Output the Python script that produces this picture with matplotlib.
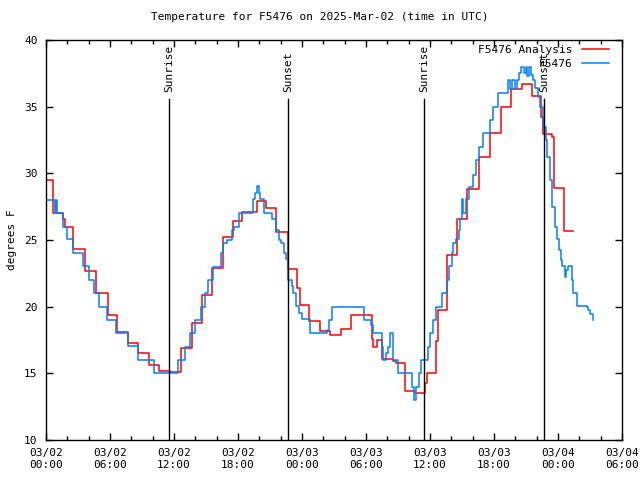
#!/usr/bin/env python3
"""
plot.py - temperature trace for F5476 (analysis vs station obs), gnuplot look.
Saves out.png
"""

import numpy as np
import pandas as pd
import matplotlib
matplotlib.use("Agg")
import matplotlib.pyplot as plt
import matplotlib.dates as mdates

# --- data (hours after 2025-03-02 00:00 UTC, degrees F) ---
START = pd.Timestamp("2025-03-02 00:00")

analysis_hours = [0.0, 0.63, 1.62, 1.81, 2.56, 3.68, 4.69, 5.78, 6.68, 7.72,
                  8.65, 9.68, 10.62, 11.63, 12.61, 13.66, 14.65, 15.53, 16.59, 17.56,
                  18.35, 19.75, 20.62, 21.56, 22.72, 23.56, 23.81, 24.63, 25.69, 26.63,
                  27.66, 28.59, 30.53, 30.69, 31.06, 31.53, 32.5, 32.8, 33.66, 34.59,
                  35.56, 35.69, 36.53, 36.78, 37.56, 38.56, 39.5, 40.62, 41.62, 42.63,
                  43.57, 44.6, 45.53, 46.41, 46.62, 47.47, 47.65, 48.59, 49.43]
analysis_temp = [29.5, 27.0, 26.6, 26.0, 24.3, 22.7, 21.0, 19.4, 18.1, 17.3,
                 16.55, 15.6, 15.2, 15.1, 16.9, 18.8, 20.85, 22.9, 25.2, 26.4,
                 27.1, 27.9, 27.4, 25.6, 22.8, 21.4, 20.1, 18.9, 18.2, 17.9,
                 18.3, 19.35, 17.6, 16.95, 17.5, 16.1, 15.9, 15.8, 13.7, 13.5,
                 14.3, 15.05, 17.4, 19.75, 23.9, 26.55, 28.8, 31.25, 33.0, 34.95,
                 36.3, 36.7, 35.8, 34.25, 32.95, 32.7, 28.9, 25.7, 25.7]

obs_hours = [0.0, 0.84, 0.94, 1.06, 1.55, 2.0, 2.56, 3.44, 4.06, 4.53,
             4.97, 5.69, 6.56, 7.72, 8.65, 10.1, 12.41, 13.03, 13.5, 13.97,
             14.5, 14.91, 15.22, 15.69, 16.38, 16.56, 16.94, 17.47, 17.63, 18.09,
             19.38, 19.59, 19.81, 19.94, 20.03, 20.44, 21.16, 21.6, 21.84, 22.0,
             22.31, 22.5, 22.72, 23.03, 23.19, 23.44, 23.72, 24.03, 24.75, 26.37,
             26.53, 26.84, 29.84, 30.47, 30.62, 30.69, 31.53, 31.62, 31.91, 32.06,
             32.28, 32.5, 32.53, 32.97, 34.28, 34.5, 34.69, 34.97, 35.16, 35.78,
             36.0, 36.31, 36.56, 37.15, 37.56, 37.78, 38.03, 38.19, 38.44, 38.72,
             38.81, 38.97, 39.06, 39.38, 39.69, 40.06, 40.31, 40.62, 41.0, 41.62,
             41.94, 42.4, 43.34, 43.5, 43.69, 43.97, 44.16, 44.34, 44.53, 44.81,
             45.0, 45.14, 45.28, 45.47, 45.66, 45.84, 46.15, 46.31, 46.62, 46.87,
             47.0, 47.25, 47.44, 47.72, 47.94, 48.06, 48.25, 48.38, 48.63, 48.72,
             48.9, 49.28, 49.43, 49.75, 49.81, 50.69, 50.84, 51.0, 51.25, 51.3]
obs_temp = [28.0, 27.0, 28.0, 27.0, 26.0, 25.05, 24.0, 23.05, 22.0, 21.0,
            20.0, 19.0, 18.0, 17.05, 16.0, 15.0, 16.0, 17.0, 18.0, 19.0,
            20.0, 21.0, 22.0, 23.0, 24.0, 24.75, 25.0, 25.75, 26.0, 27.0,
            28.05, 28.5, 29.05, 28.5, 28.05, 27.05, 26.55, 25.75, 25.0, 24.75,
            24.05, 23.6, 22.0, 21.55, 21.0, 20.05, 19.5, 19.05, 18.0, 18.25,
            19.0, 20.0, 19.0, 18.6, 18.25, 18.0, 17.0, 16.0, 16.5, 17.0,
            18.0, 17.75, 16.0, 15.0, 14.0, 13.0, 14.0, 15.0, 16.0, 17.0,
            18.0, 19.0, 20.0, 21.0, 22.0, 23.05, 24.0, 24.75, 25.05, 25.75,
            26.55, 28.1, 27.0, 28.1, 29.0, 29.9, 31.0, 32.0, 33.0, 34.0,
            35.0, 36.05, 37.0, 36.3, 37.0, 36.3, 37.0, 37.5, 38.0, 37.5,
            38.0, 37.3, 38.0, 37.4, 37.0, 36.4, 35.75, 35.0, 33.5, 32.5,
            31.25, 29.5, 27.5, 26.0, 25.05, 24.25, 23.5, 23.05, 22.25, 22.75,
            23.05, 22.0, 21.05, 20.75, 20.05, 20.0, 19.75, 19.45, 19.0, 19.0]

sun_labels = ["Sunrise", "Sunset", "Sunrise", "Sunset"]
sun_times = ["2025-03-02 11:33", "2025-03-02 22:43", "2025-03-03 11:28", "2025-03-03 22:43"]

FONT = "DejaVu Sans Mono"


def to_times(hours):
    return START + pd.to_timedelta(np.asarray(hours), unit="h")


def main():
    fig = plt.figure(figsize=(6.4, 4.8), dpi=100)
    ax = fig.add_axes([46 / 640, 40 / 480, 576 / 640, 400 / 480])

    ax.step(to_times(analysis_hours), analysis_temp, where="post",
            color="#ff0000", lw=1.1, label="F5476 Analysis")
    ax.step(to_times(obs_hours), obs_temp, where="post",
            color="#0080ff", lw=1.1, label="F5476")

    # sunrise / sunset markers
    for lab, t in zip(sun_labels, sun_times):
        tt = pd.Timestamp(t)
        ax.plot([tt, tt], [10, 35.6], color="black", lw=1.0)
        ax.text(tt, 36.1, lab, rotation=90, ha="center", va="bottom",
                fontsize=8, family=FONT)

    ax.set_xlim(pd.Timestamp("2025-03-02 00:00"), pd.Timestamp("2025-03-04 06:00"))
    ax.set_ylim(10, 40)
    ax.set_yticks(range(10, 41, 5))
    ax.xaxis.set_major_locator(mdates.HourLocator(byhour=[0, 6, 12, 18]))
    ax.xaxis.set_minor_locator(mdates.HourLocator(byhour=range(0, 24, 2)))
    ax.xaxis.set_major_formatter(mdates.DateFormatter("%m/%d\n%H:%M"))

    ax.tick_params(which="both", direction="in", top=True, right=True,
                   labelsize=8, width=1.0, pad=6)
    ax.tick_params(which="major", length=5)
    ax.tick_params(which="minor", length=3)
    for lbl in ax.get_xticklabels() + ax.get_yticklabels():
        lbl.set_family(FONT)
    for s in ax.spines.values():
        s.set_linewidth(1.0)

    ax.set_ylabel("degrees F", fontsize=8, family=FONT, labelpad=5)
    fig.suptitle("Temperature for F5476 on 2025-Mar-02 (time in UTC)",
                 y=0.975, fontsize=8, family=FONT)

    leg = ax.legend(loc="upper right", frameon=False, markerfirst=False,
                    bbox_to_anchor=(1 - 6 / 576, 1 + 2 / 400),
                    prop={"family": FONT, "size": 8}, handlelength=2.5,
                    borderaxespad=0.2, labelspacing=0.4)
    for t in leg.get_texts():
        t.set_ha("right")

    fig.savefig("out.png", dpi=100)
    plt.close(fig)


if __name__ == "__main__":
    main()
